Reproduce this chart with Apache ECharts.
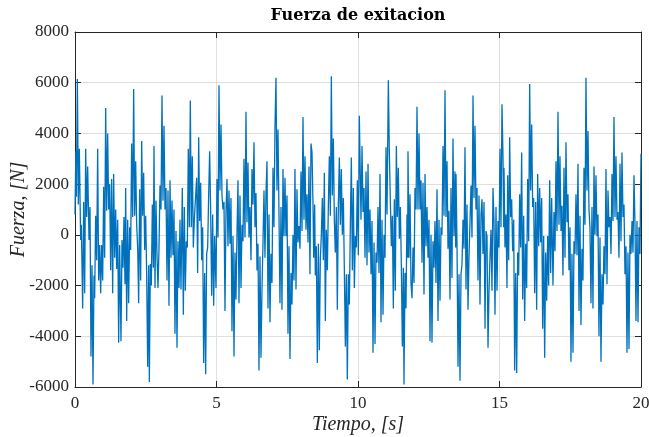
<!DOCTYPE html>
<html lang="es">
<head>
    <meta charset="UTF-8">
    <title>Fuerza de exitacion</title>
    <script type="text/javascript" src="https://cdn.jsdelivr.net/npm/echarts@6/dist/echarts.min.js"></script>
</head>
<body style="margin:0">
<div id="main" style="width: 649px;height: 437px"></div>

<script>
    // puntos: tiempo [s] y fuerza [N]
    var tiempo = [
        0, 0.03, 0.05, 0.083, 0.118, 0.153, 0.2, 0.224, 0.271, 0.306, 0.342, 0.377, 0.412, 0.448, 0.495, 0.53, 0.565, 0.601, 0.636, 0.671, 0.695, 0.73, 0.766, 0.801, 0.836, 0.872, 0.907, 0.942, 0.978, 1.013, 1.048, 1.084, 1.119, 1.154, 1.19, 1.225, 1.26, 1.296, 1.331, 1.366, 1.402, 1.437, 1.472, 1.508, 1.543, 1.578,
        1.625, 1.661, 1.696, 1.731, 1.767, 1.79, 1.826, 1.861, 1.896, 1.932, 1.967, 2.002, 2.038, 2.073, 2.108, 2.144, 2.179, 2.214, 2.25, 2.285, 2.32, 2.356, 2.391, 2.426, 2.462, 2.497, 2.532, 2.568, 2.603, 2.627, 2.662, 2.697, 2.733, 2.768, 2.791, 2.827, 2.862, 2.897, 2.933, 2.968, 3.003, 3.039, 3.074, 3.109, 3.145, 3.18, 3.215, 3.251,
        3.286, 3.321, 3.357, 3.392, 3.427, 3.463, 3.498, 3.533, 3.569, 3.604, 3.639, 3.675, 3.71, 3.745, 3.792, 3.828, 3.863, 3.898, 3.934, 3.969, 4.004, 4.04, 4.075, 4.11, 4.146, 4.181, 4.216, 4.252, 4.299, 4.334, 4.37, 4.405, 4.44, 4.476, 4.511, 4.546, 4.582, 4.617, 4.652, 4.688, 4.723, 4.758, 4.794, 4.829, 4.864, 4.9, 4.935,
        4.982, 5.017, 5.053, 5.088, 5.123, 5.159, 5.194, 5.229, 5.265, 5.3, 5.335, 5.371, 5.406, 5.441, 5.477, 5.512, 5.547, 5.583, 5.618, 5.653, 5.689, 5.724, 5.759, 5.795, 5.83, 5.865, 5.901, 5.936, 5.971, 6.007, 6.042, 6.077, 6.113, 6.148, 6.183, 6.219, 6.254, 6.289, 6.325, 6.36, 6.395, 6.431, 6.466, 6.501, 6.537, 6.572, 6.607, 6.643,
        6.678, 6.713, 6.749, 6.784, 6.819, 6.855, 6.89, 6.925, 6.961, 6.996, 7.031, 7.067, 7.102, 7.137, 7.173, 7.208, 7.243, 7.279, 7.314, 7.349, 7.385, 7.42, 7.455, 7.491, 7.526, 7.561, 7.597, 7.632, 7.667, 7.703, 7.738, 7.773, 7.809, 7.844, 7.879, 7.915, 7.95, 7.985, 8.021, 8.056, 8.091, 8.127, 8.162, 8.197, 8.233, 8.268, 8.303, 8.339,
        8.375, 8.41, 8.434, 8.469, 8.492, 8.528, 8.563, 8.599, 8.634, 8.669, 8.705, 8.74, 8.775, 8.811, 8.846, 8.881, 8.917, 8.952, 8.987, 9.023, 9.058, 9.093, 9.129, 9.164, 9.199, 9.235, 9.27, 9.305, 9.341, 9.376, 9.411, 9.447, 9.482, 9.517, 9.553, 9.588, 9.623, 9.659, 9.694, 9.729, 9.765, 9.8, 9.835, 9.871, 9.906, 9.941, 9.977, 10.012, 10.047,
        10.106, 10.142, 10.177, 10.212, 10.248, 10.283, 10.318, 10.354, 10.389, 10.424, 10.46, 10.495, 10.53, 10.566, 10.601, 10.636, 10.672, 10.707, 10.742, 10.778, 10.813, 10.848, 10.884, 10.919, 10.954, 10.99, 11.025, 11.072, 11.107, 11.143, 11.178, 11.213, 11.249, 11.284, 11.319, 11.355, 11.39, 11.425, 11.461, 11.496, 11.531, 11.567, 11.602, 11.625, 11.661, 11.696, 11.731, 11.755,
        11.767, 11.802, 11.838, 11.873, 11.908, 11.944, 11.979, 12.014, 12.05, 12.085, 12.12, 12.156, 12.191, 12.226, 12.262, 12.297, 12.332, 12.368, 12.403, 12.438, 12.474, 12.509, 12.544, 12.58, 12.615, 12.65, 12.686, 12.721, 12.756, 12.792, 12.827, 12.862, 12.898, 12.933, 12.968, 13.004, 13.039, 13.074, 13.109, 13.145, 13.18, 13.215, 13.251, 13.286, 13.321, 13.357, 13.392, 13.427, 13.451,
        13.463, 13.498, 13.534, 13.569, 13.604, 13.64, 13.675, 13.71, 13.746, 13.781, 13.816, 13.852, 13.887, 13.922, 13.958, 13.993, 14.028, 14.064, 14.099, 14.134, 14.17, 14.205, 14.24, 14.276, 14.311, 14.346, 14.382, 14.417, 14.452, 14.488, 14.523, 14.558, 14.594, 14.629, 14.664, 14.7, 14.735, 14.77, 14.806, 14.841, 14.876, 14.912, 14.947, 14.982, 15.018, 15.053, 15.088, 15.124, 15.147,
        15.159, 15.194, 15.23, 15.265, 15.289, 15.324, 15.359, 15.395, 15.43, 15.465, 15.501, 15.536, 15.571, 15.607, 15.642, 15.677, 15.713, 15.748, 15.783, 15.819, 15.854, 15.889, 15.925, 15.96, 15.995, 16.031, 16.066, 16.101, 16.137, 16.172, 16.207, 16.243, 16.278, 16.313, 16.349, 16.384, 16.419, 16.455, 16.49, 16.525, 16.561, 16.596, 16.631, 16.667, 16.702, 16.737, 16.773, 16.808, 16.843,
        16.89, 16.925, 16.961, 16.996, 17.031, 17.067, 17.102, 17.137, 17.173, 17.208, 17.243, 17.279, 17.314, 17.349, 17.385, 17.42, 17.455, 17.491, 17.526, 17.561, 17.597, 17.632, 17.667, 17.703, 17.738, 17.773, 17.809, 17.844, 17.879, 17.915, 17.95, 17.985, 18.021, 18.056, 18.091, 18.127, 18.162, 18.197, 18.233, 18.268, 18.303, 18.339, 18.374, 18.409, 18.445, 18.48, 18.515,
        18.551, 18.586, 18.622, 18.657, 18.692, 18.728, 18.763, 18.798, 18.834, 18.869, 18.904, 18.94, 18.975, 19.01, 19.046, 19.081, 19.116, 19.152, 19.187, 19.222, 19.258, 19.293, 19.328, 19.364, 19.399, 19.434, 19.47, 19.505, 19.54, 19.576, 19.611, 19.646, 19.682, 19.717, 19.752, 19.788, 19.823, 19.858, 19.894, 19.929, 19.964, 20
    ];
    var fuerza = [
        800, 3300, 1500, 6150, 1200, 3400, -200, 400, -2900, 1300, -2300, 3400, 700, 2700, -200, 1100, -4800, -1200, -5900, -1600, -2500, 750, -1000, 3400, -1800, -400, -2300, -400, -1800, 1900, -900, 5000, 950, 4000, 1000, 2000, -1400, 2200, -2300, 2400, -900, 1000, -1350, 600, -4250, -400,
        -4200, -200, -1300, 700, -1950, 1850, -3400, 600, -2700, 300, -600, 3600, 700, 5750, 750, 2900, 400, -500, -2700, 1800, -1800, 3700, 750, 2450, -600, 750, -1500, -5200, -1200, -5800, -1150, -2000, 1200, -1300, 3500, -2100, 1350, -800, -2100, -550, 1950, 1000, 5500, 1350, 4300, 1000, 1850, -1800,
        1750, -2800, 2150, -900, 1350, -800, 1000, -3900, 150, -4450, -250, -2100, 600, -2150, 1850, -3150, 1100, -2200, -250, -500, 3400, 300, 5300, 300, 3100, -500, 600, 550, 2250, -1500, 3850, 550, 2050, -1000, 300, -5050, -1500, -5500, -750, -500, 1550, 3300, 900, -2400, 800, -2800, -50,
        -2100, 2200, -100, 5900, 1750, 4350, 1550, 1000, 1300, -3000, 900, 2200, -450, 1750, -350, 1450, -3800, -50, -4800, -700, -2550, 0, 2150, -2700, 1550, -2100, 400, -250, 3000, -100, 4850, 500, 2850, -100, 1100, -1000, 2600, 1200, 3650, 300, 1650, -1400, -350, -5350, -850, -4850, -2150, -300,
        1750, -900, 1650, 2900, -2900, 800, -3450, -750, -1900, 2650, 300, 4300, 6200, 1750, 4150, 800, -2700, 1100, -2950, 2600, -50, 2250, -50, 1550, -3900, -450, -4900, -1500, -2750, 0, -1800, 2600, -2150, 1800, -300, 350, -550, 2500, 150, 4650, 600, 3100, 200, 1600, -300, 2700, -1550, 3600,
        3250, 1200, -900, 1200, -1600, -450, -5050, -350, -4550, -950, 0, 1450, -1000, 2450, -3400, 200, -1400, 1100, 3100, 750, 6250, 1550, 3800, 600, -700, 1100, -2950, 1150, 3050, 400, 2600, 0, 1450, -1350, -4400, -1550, -5700, -1550, -2750, 350, 3050, -1400, 1850, -2100, -50, -500, 2150, -800, 4700,
        600, 3500, 900, 1850, -900, 2500, -1200, 2800, -700, 1000, -1550, 550, -4650, -300, -4300, -700, -1100, 1100, -1500, 2400, -3450, 600, -3150, 0, -900, 3450, 800, 6100, 3250, 1350, -450, 750, -2900, 1400, -2200, 3500, 700, 2650, -150, 1100, -1150, -4400, -1300, -5900, -1500, -2900, 800, -900,
        3300, -900, 1600, -1900, -2500, -500, -1900, 1850, 1000, 5050, 1000, 4000, 1000, 2150, -1100, 2050, -2350, 2400, -450, 1100, -900, 600, -4200, 0, -4250, -250, -1300, 550, -1900, 1800, -3400, 600, -2600, 300, 0, 3500, 750, 5700, 700, 2900, -550, 950, -2550, 1850, -1700, 3800, -50, 2500, -500,
        2400, -350, -5200, -1550, -5750, -1550, -1150, 600, -550, 3450, -2150, 1200, -2950, -900, -900, 1950, -100, 5500, 1450, 4300, 1000, 1850, -1800, 1550, -2750, 800, 1400, -750, 1300, -3700, 150, -50, -4450, -2200, -900, 200, -2200, 1850, 550, -3150, 1100, -2200, 550, -500, 3400, 300, 5150, 3050, 300,
        2650, -500, 800, -2100, 2350, -1000, 3850, 700, 1400, -650, 600, -5350, -1500, -5450, -700, -1600, 1600, -500, 3250, -2550, 750, -3400, -350, -2100, 2200, -250, 5950, 1750, 4350, 1100, 1450, -2300, 1300, -2950, 2400, -450, 1850, -300, 1450, -3700, -50, -4850, -700, -2600, -50, -2000, 2150, -1500, 1450,
        -2000, 900, -650, 2900, 150, 4850, 400, 3100, 150, 1150, -1600, 2650, -900, 3650, 500, 1600, -1400, 300, -5000, -750, -4650, -250, -750, 1600, -800, 2800, -3000, 750, -3550, -550, -1800, 2650, 400, 6200, 1750, 4100, 1000, 300, -2700, 1100, -2900, 2700, 0, 2350, -50, 800, -4000,
        -100, -5000, -1550, -2750, -450, -1550, 2600, -1950, 1750, 300, 700, -750, 2400, 550, 4650, 700, 3100, 600, 900, -900, 2800, -250, 3250, 700, 1200, -1550, -450, -4650, -700, -4500, 0, -750, 550, -700, 2350, 400, -3400, 550, -3450, 300, -750, 3200
    ];
    var ticksX = [0, 5, 10, 15, 20];
    var ticksY = [-6000, -4000, -2000, 0, 2000, 4000, 6000, 8000];

    var datos = tiempo.map(function (t, i) { return [t, fuerza[i]]; });

    var chartDom = document.getElementById('main');
    var myChart = echarts.init(chartDom);
    var option;

    var fuente = '"Liberation Serif", "Times New Roman", serif';
    var colorEje = '#262626';

    function ejeComun(extra) {
        var base = {
            type: 'value',
            axisLine: {show: true, onZero: false, lineStyle: {color: colorEje, width: 1}},
            axisTick: {show: true, inside: true, length: 6, lineStyle: {color: colorEje}},
            splitLine: {show: false},
            axisLabel: {show: false}
        };
        return Object.assign(base, extra);
    }

    option = {
        animation: false,
        backgroundColor: '#ffffff',
        grid: {left: 75, top: 32, width: 566, height: 355, containLabel: false, outerBoundsMode: 'none'},
        graphic: [{
            type: 'text',
            x: 358, y: 16,
            style: {
                text: 'Fuerza de exitacion',
                font: 'bold 16px "DejaVu Serif", serif',
                fill: '#000000',
                textAlign: 'center',
                textVerticalAlign: 'middle'
            }
        }],
        xAxis: [
            ejeComun({
                position: 'bottom',
                min: ticksX[0], max: ticksX[ticksX.length - 1], interval: 5,
                splitLine: {show: true, lineStyle: {color: '#dfdfdf', width: 1}},
                axisLabel: {show: true, color: colorEje, fontFamily: fuente, fontSize: 17, margin: 8,
                    formatter: function (v) { return String(v); }},
                name: 'Tiempo, [s]',
                nameLocation: 'middle',
                nameGap: 28,
                nameMoveOverlap: false,
                nameTextStyle: {fontFamily: fuente, fontStyle: 'italic', fontSize: 20, color: colorEje}
            }),
            ejeComun({
                position: 'top',
                min: ticksX[0], max: ticksX[ticksX.length - 1], interval: 5
            })
        ],
        yAxis: [
            ejeComun({
                position: 'left',
                min: ticksY[0], max: ticksY[ticksY.length - 1], interval: 2000,
                splitLine: {show: true, lineStyle: {color: '#dfdfdf', width: 1}},
                axisLabel: {show: true, color: colorEje, fontFamily: fuente, fontSize: 17, margin: 6,
                    formatter: function (v) { return String(v); }},
                name: 'Fuerza, [N]',
                nameLocation: 'middle',
                nameGap: 46,
                nameMoveOverlap: false,
                nameTextStyle: {fontFamily: fuente, fontStyle: 'italic', fontSize: 20, color: colorEje}
            }),
            ejeComun({
                position: 'right',
                min: ticksY[0], max: ticksY[ticksY.length - 1], interval: 2000
            })
        ],
        series: [
            {
                name: 'Fuerza',
                type: 'line',
                data: datos,
                showSymbol: false,
                lineStyle: {color: '#0072BD', width: 1.3},
                z: 3
            }
        ]
    };

    myChart.setOption(option);
</script>
</body>
</html>
